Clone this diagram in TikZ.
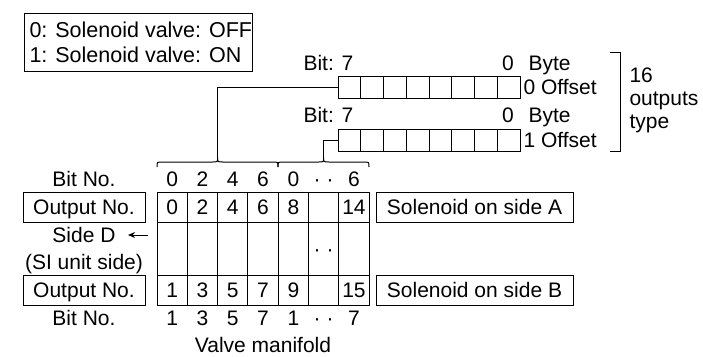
\documentclass[tikz,border=0pt]{standalone}
\usepackage{fontspec}
\setmainfont{Liberation Sans}
\usetikzlibrary{arrows.meta}
\begin{document}
\begin{tikzpicture}[x=1pt,y=-1pt,line width=1pt,
  txt/.style={inner sep=0pt,text height=15pt,text depth=0pt,font=\fontsize{21}{25}\selectfont},
  cell/.style={draw,txt,minimum width=30.3pt,minimum height=30pt},
  midcell/.style={draw,txt,minimum width=30.3pt,minimum height=53pt},
  regcell/.style={draw,inner sep=0pt,minimum width=22.75pt,minimum height=22pt},
  labelbox/.style={draw,txt,minimum height=30pt},
  conn/.style={line width=1pt}]
\useasboundingbox (0,0) rectangle (703,356);

% legend
\node[draw,inner sep=0pt,minimum width=228pt,minimum height=58pt,anchor=north west] (legend) at (24,12.5) {};
\node[txt,anchor=west,font=\fontsize{21.5}{25}\selectfont] (leg0) at (29,30) {0: Solenoid valve: OFF};
\node[txt,anchor=west,font=\fontsize{21.5}{25}\selectfont] (leg1) at (29,55) {1: Solenoid valve: ON};

% byte registers
\foreach \j in {1,...,8} {
  \node[regcell] (ra\j) at ({338+22.75*(\j-0.5)},87) {};
  \node[regcell] (rb\j) at ({338+22.75*(\j-0.5)},140) {};
}
\node[txt,anchor=west] (bita7) at (303,63) {Bit: 7};
\node[txt] (bita0) at (508,63) {0};
\node[txt,anchor=west] (bytea) at (528,63) {Byte};
\node[txt,anchor=west] (offa) at (523,87) {0 Offset};
\node[txt,anchor=west] (bitb7) at (303,115) {Bit: 7};
\node[txt] (bitb0) at (508,115) {0};
\node[txt,anchor=west] (byteb) at (528,115) {Byte};
\node[txt,anchor=west] (offb) at (523,140) {1 Offset};

% bracket and type label
\draw (610,52) -- (620,52) -- (620,151) -- (610,151);
\node[txt,anchor=west] (t16) at (629,75) {16};
\node[txt,anchor=west] (tout) at (629,98) {outputs};
\node[txt,anchor=west] (ttype) at (629,121) {type};

% table
\foreach \t [count=\i] in {0,2,4,6,8,{},14} {
  \node[cell] (a\i) at ({157+30.3*(\i-0.5)},207) {\t};
}
\foreach \i in {1,...,7} {
  \node[midcell] (m\i) at ({157+30.3*(\i-0.5)},248.5) {};
}
\node[txt] (mdots) at (m6.center) {· ·};
\foreach \t [count=\i] in {1,3,5,7,9,{},15} {
  \node[cell] (b\i) at ({157+30.3*(\i-0.5)},290) {\t};
}
\foreach \t [count=\i] in {0,2,4,6,0,· ·,6} {
  \node[txt] (tb\i) at ({157+30.3*(\i-0.5)},179) {\t};
}
\foreach \t [count=\i] in {1,3,5,7,1,· ·,7} {
  \node[txt] (bb\i) at ({157+30.3*(\i-0.5)},318) {\t};
}

% left labels
\node[txt] (bitnotop) at (84,179) {Bit No.};
\node[labelbox,minimum width=122pt] (outa) at (84,207) {Output No.};
\node[txt] (sided) at (84,235) {Side D};
\coordinate (arrs) at (148,235);
\coordinate (arre) at (128,235);
\draw[conn,-{Stealth[length=7pt,width=6pt]}] (arrs) -- (arre);
\node[txt] (siunit) at (84,262) {(SI unit side)};
\node[labelbox,minimum width=122pt] (outb) at (84,290) {Output No.};
\node[txt] (bitnobot) at (84,318) {Bit No.};
\node[txt] (vm) at (263,345) {Valve manifold};

% right labels
\node[labelbox,minimum width=197pt] (sola) at (474.5,207) {Solenoid on side A};
\node[labelbox,minimum width=197pt] (solb) at (474.5,290) {Solenoid on side B};

% braces
\coordinate (c1) at (217.6,157);
\coordinate (c2) at (323.65,157);
\draw (157,167) .. controls (157,162) .. (162,162) -- (212.6,162)
  .. controls (217.6,162) .. (c1) .. controls (217.6,162) .. (222.6,162)
  -- (273,162) .. controls (278,162) .. (278,167);
\draw (278,167) .. controls (278,162) .. (283,162) -- (318.65,162)
  .. controls (323.65,162) .. (c2) .. controls (323.65,162) .. (328.65,162)
  -- (364,162) .. controls (369,162) .. (369,167);

% connectors
\draw[conn] (c1) |- (ra1.west);
\draw[conn] (c2) |- (rb1.west);
\end{tikzpicture}
\end{document}
